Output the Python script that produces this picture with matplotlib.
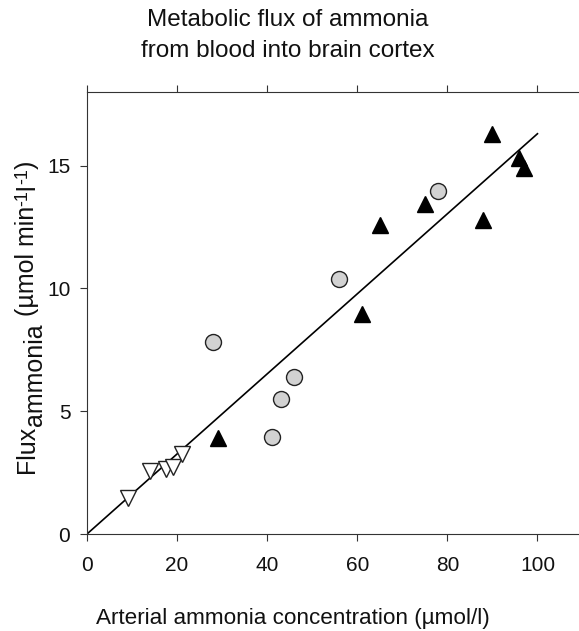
import matplotlib
matplotlib.use("Agg")
import matplotlib.pyplot as plt

plt.rcParams['font.family'] = ['Liberation Sans', 'DejaVu Sans']

# grey circles
circ_x = [28, 41, 43, 46, 56, 78]
circ_y = [7.8, 3.95, 5.5, 6.4, 10.4, 13.95]
# black upward triangles
up_x = [29, 61, 65, 75, 88, 90, 96, 97]
up_y = [3.9, 8.95, 12.6, 13.45, 12.8, 16.3, 15.3, 14.9]
# white downward triangles
down_x = [9, 14, 17.6, 19, 21]
down_y = [1.46, 2.56, 2.64, 2.73, 3.25]
# regression line
fit_x = [0, 100]
fit_y = [0, 16.3]

W, H = 579, 631
fig = plt.figure(figsize=(W / 100, H / 100), dpi=100)
ax = fig.add_axes([87 / W, 1 - 534 / H, (578 - 87) / W, (534 - 92) / H])

ax.plot(fit_x, fit_y, color='black', linewidth=1.2, zorder=1)
ax.plot(circ_x, circ_y, 'o', markersize=11.5, markerfacecolor='#d2d2d2',
        markeredgecolor='#222222', markeredgewidth=1.0, zorder=3)
ax.plot(up_x, up_y, '^', markersize=12, markerfacecolor='black',
        markeredgecolor='black', zorder=3)
ax.plot(down_x, down_y, 'v', markersize=12, markerfacecolor='white',
        markeredgecolor='#222222', markeredgewidth=1.0, zorder=3)

ax.set_xlim(0, 109)
ax.set_ylim(0, 18)
ax.set_xticks([0, 20, 40, 60, 80, 100])
ax.set_yticks([0, 5, 10, 15])
ax.spines['right'].set_visible(False)
for s in ['left', 'bottom', 'top']:
    ax.spines[s].set_color('#333333')
ax.tick_params(axis='both', direction='out', labelsize=15, length=5, color='#333333',
               labelcolor='#111111')
ax.tick_params(axis='x', top=True, labeltop=False, pad=11)
ax.tick_params(axis='y', pad=7)

# title, two lines
fig.text(288 / W, 1 - 26 / H, 'Metabolic flux of ammonia', ha='center', va='baseline',
         fontsize=17.5, color='#111111')
fig.text(288 / W, 1 - 57 / H, 'from blood into brain cortex', ha='center', va='baseline',
         fontsize=17.5, color='#111111')

# x label
fig.text(293 / W, 1 - 624 / H, 'Arterial ammonia concentration (\u00b5mol/l)',
         ha='center', va='baseline', fontsize=16.2, color='#111111')

# y label built from pieces so the subscript keeps full size
pieces = [('Flux', 18, 0), ('ammonia', 18, -8), (' (\u00b5mol min', 18, 0),
          ('-1', 13, 7), ('l', 18, 0), ('-1', 13, 7), (')', 18, 0)]
renderer = fig.canvas.get_renderer()
base_x = 34
ypos = 473
for txt, size, shift in pieces:
    t = fig.text((base_x - shift) / W, 1 - ypos / H, txt, rotation=90,
                 rotation_mode='anchor', ha='left', va='baseline',
                 fontsize=size, color='#111111')
    ext = t.get_window_extent(renderer)
    ypos -= ext.height

fig.savefig('out.png', dpi=100)
